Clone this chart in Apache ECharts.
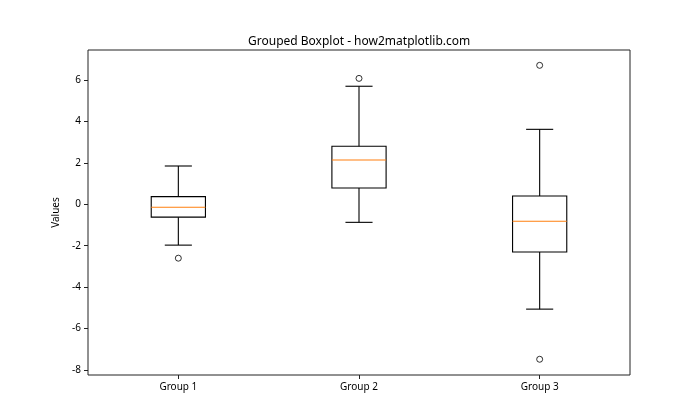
<!DOCTYPE html>
<html>
<head>
<meta charset="utf-8">
<script src="https://cdn.jsdelivr.net/npm/echarts@6/dist/echarts.min.js"></script>
<style>html,body{margin:0;padding:0;background:#fff}#chart{width:700px;height:420px}</style>
</head>
<body>
<div id="chart"></div>
<script>
const categories = ['Group 1', 'Group 2', 'Group 3'];
const whiskerLow = [-1.97, -0.87, -5.06];
const q1 = [-0.62, 0.79, -2.30];
const median = [-0.14, 2.14, -0.82];
const q3 = [0.37, 2.80, 0.40];
const whiskerHigh = [1.85, 5.70, 3.62];
const outliers = [[0, -2.60], [1, 6.08], [2, 6.71], [2, -7.48]];
const yTicks = [-8, -6, -4, -2, 0, 2, 4, 6];

const boxData = categories.map((c, i) => [i, whiskerLow[i], q1[i], median[i], q3[i], whiskerHigh[i]]);
const font = '"Noto Sans", "Open Sans", sans-serif';

const chart = echarts.init(document.getElementById('chart'), null, {renderer: 'canvas'});
chart.setOption({
  animation: false,
  title: {
    text: 'Grouped Boxplot - how2matplotlib.com',
    left: 243, top: 31,
    textStyle: {fontFamily: font, fontSize: 12, fontWeight: 'normal', color: '#000'}
  },
  grid: {left: 88, right: 70, top: 50, bottom: 45, show: true, borderColor: '#222', borderWidth: 1, backgroundColor: 'transparent'},
  xAxis: {
    type: 'category', data: categories, boundaryGap: true,
    axisLine: {show: false, onZero: false},
    axisTick: {show: true, alignWithLabel: true, length: 4, lineStyle: {color: '#222'}},
    axisLabel: {fontFamily: font, fontSize: 10, color: '#000', margin: 7},
    splitLine: {show: false}
  },
  yAxis: {
    type: 'value', min: -8.24, max: 7.45,
    name: 'Values', nameLocation: 'middle', nameGap: 20,
    nameTextStyle: {fontFamily: font, fontSize: 10, color: '#000'},
    axisLine: {show: false, onZero: false},
    axisTick: {show: true, length: 4, customValues: yTicks, lineStyle: {color: '#222'}},
    axisLabel: {fontFamily: font, fontSize: 10, color: '#000', margin: 7, customValues: yTicks},
    splitLine: {show: false}
  },
  series: [
    {
      type: 'custom',
      data: boxData,
      encode: {x: 0, y: [1, 2, 3, 4, 5]},
      renderItem: function (params, api) {
        const x = api.value(0);
        const band = api.size([1, 0])[0];
        const bw = band * 0.3;
        const cw = bw / 2;
        const pLow = api.coord([x, api.value(1)]);
        const pQ1 = api.coord([x, api.value(2)]);
        const pMed = api.coord([x, api.value(3)]);
        const pQ3 = api.coord([x, api.value(4)]);
        const pHigh = api.coord([x, api.value(5)]);
        const cx = pQ1[0];
        const ls = {stroke: '#000', lineWidth: 1.1, fill: null};
        return {
          type: 'group',
          children: [
            {type: 'line', shape: {x1: cx, y1: pQ3[1], x2: cx, y2: pHigh[1]}, style: ls},
            {type: 'line', shape: {x1: cx, y1: pQ1[1], x2: cx, y2: pLow[1]}, style: ls},
            {type: 'line', shape: {x1: cx - cw / 2, y1: pHigh[1], x2: cx + cw / 2, y2: pHigh[1]}, style: ls},
            {type: 'line', shape: {x1: cx - cw / 2, y1: pLow[1], x2: cx + cw / 2, y2: pLow[1]}, style: ls},
            {type: 'rect', shape: {x: cx - bw / 2, y: pQ3[1], width: bw, height: pQ1[1] - pQ3[1]}, style: {stroke: '#000', lineWidth: 1.1, fill: 'none'}},
            {type: 'line', shape: {x1: cx - bw / 2, y1: pMed[1], x2: cx + bw / 2, y2: pMed[1]}, style: {stroke: '#ff7f0e', lineWidth: 1.1}}
          ]
        };
      }
    },
    {
      type: 'scatter',
      data: outliers,
      symbol: 'circle', symbolSize: 6,
      itemStyle: {color: '#fff', borderColor: '#000', borderWidth: 1}
    }
  ]
});
</script>
</body>
</html>
